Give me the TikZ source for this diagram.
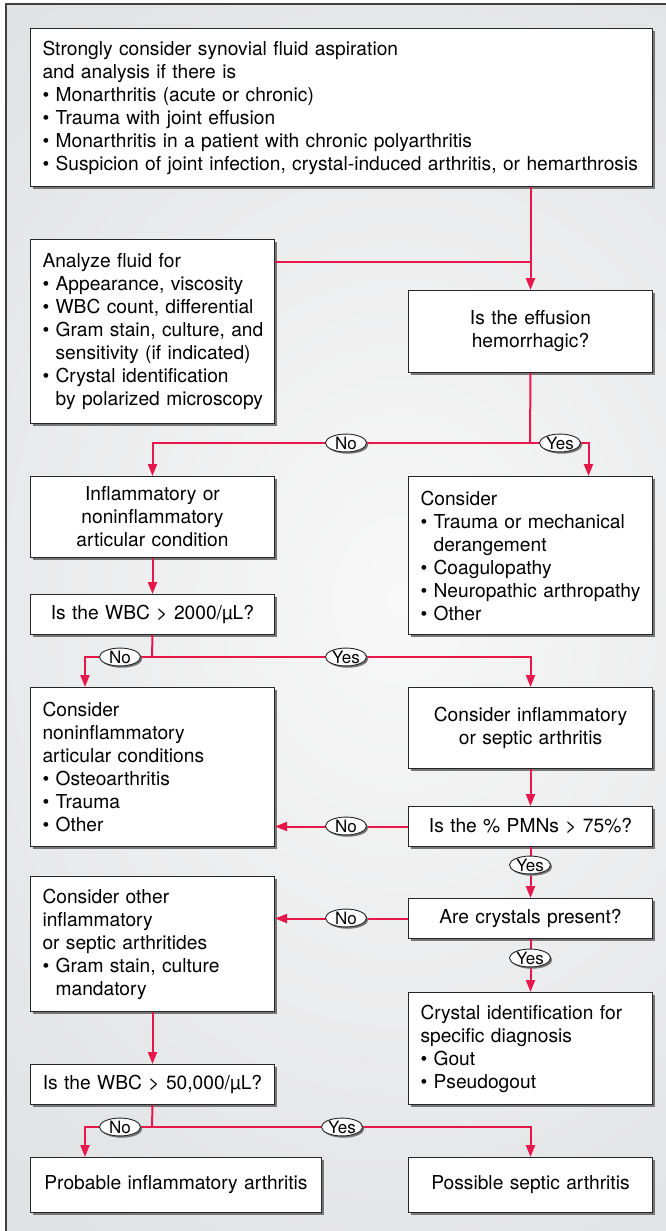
\documentclass[tikz,border=0pt]{standalone}
\usepackage{fontspec}
\setmainfont{TeX Gyre Heros}
\usetikzlibrary{arrows.meta,shapes.geometric,shadows}

\definecolor{flowred}{RGB}{232,23,75}
\definecolor{bgouter}{RGB}{225,226,228}
\definecolor{bginner}{RGB}{248,248,248}
\definecolor{boxshadow}{RGB}{118,118,118}

% bullet line and its run-on line, kept unbroken
\newcommand{\flowbul}[1]{\mbox{\textbullet\ #1}}
\newcommand{\flowind}[1]{\mbox{\hphantom{\textbullet\ }#1}}
% answer tag text, no width of its own
\newcommand{\answer}[1]{\makebox[0pt]{#1}}

\begin{document}
\begin{tikzpicture}[x=1pt, y=-1pt,
  box/.style={draw=black!85, line width=1pt, fill=white, inner xsep=12pt, inner ysep=0pt,
    text width=220pt, minimum height=#1, anchor=north west, align=left,
    font=\fontsize{19.2pt}{23pt}\selectfont,
    drop shadow={shadow xshift=2.5pt, shadow yshift=-2.5pt, fill=boxshadow, opacity=1}},
  cbox/.style={box=#1, text width=232pt, inner xsep=6pt, align=center},
  lbl/.style={ellipse, draw=black!85, line width=0.9pt, fill=white, minimum width=41pt,
    minimum height=17pt, inner sep=0pt, font=\fontsize{17pt}{17pt}\selectfont,
    drop shadow={shadow xshift=1.8pt, shadow yshift=-1.8pt, fill=boxshadow, opacity=1}},
  conn/.style={draw=flowred, line width=2pt},
  flow/.style={conn, -{Triangle[length=12pt,width=9pt]}}]
  \useasboundingbox (0,0) rectangle (666,1231);

  % Background panel
  \begin{scope}
    \clip (6,4) rectangle (672,1240);
    \shade[inner color=bginner, outer color=bgouter] (-200,-150) rectangle (1000,1350);
  \end{scope}
  \draw[black!75, line width=1.3pt] (6,1240) -- (6,4) -- (672,4);

  % Boxes
  \node[box=158pt, text width=598pt] (top) at (30,28)
    {Strongly consider synovial fluid aspiration\\
     and analysis if there is\\
     \flowbul{Monarthritis (acute or chronic)}\\
     \flowbul{Trauma with joint effusion}\\
     \flowbul{Monarthritis in a patient with chronic polyarthritis}\\
     \flowbul{Suspicion of joint infection, crystal-induced arthritis, or hemarthrosis}};
  \node[box=184pt] (an) at (30,239)
    {Analyze fluid for\\
     \flowbul{Appearance, viscosity}\\
     \flowbul{WBC count, differential}\\
     \flowbul{Gram stain, culture, and}\\
     \flowind{sensitivity (if indicated)}\\
     \flowbul{Crystal identification}\\
     \flowind{by polarized microscopy}};
  \node[cbox=82pt] (eff) at (408,290) {Is the effusion\\ hemorrhagic?};
  \node[cbox=81pt] (inf) at (30,476) {Inflammatory or\\ noninflammatory\\ articular condition};
  \node[box=158pt] (hem) at (408,476)
    {Consider\\
     \flowbul{Trauma or mechanical}\\
     \flowind{derangement}\\
     \flowbul{Coagulopathy}\\
     \flowbul{Neuropathic arthropathy}\\
     \flowbul{Other}};
  \node[cbox=40pt] (wbca) at (30,594) {\mbox{Is the WBC > 2000/µL?}};
  \node[box=159pt] (noninf) at (30,687)
    {Consider\\
     noninflammatory\\
     articular conditions\\
     \flowbul{Osteoarthritis}\\
     \flowbul{Trauma}\\
     \flowbul{Other}};
  \node[cbox=81pt] (septic) at (408,687) {Consider inflammatory\\ or septic arthritis};
  \node[cbox=40pt] (pmn) at (408,806) {\mbox{Is the \% PMNs > 75\%?}};
  \node[box=135pt] (other) at (30,876)
    {Consider other\\
     inflammatory\\
     or septic arthritides\\
     \flowbul{Gram stain, culture}\\
     \flowind{mandatory}};
  \node[cbox=40pt] (cryst) at (408,898) {Are crystals present?};
  \node[box=112pt] (ident) at (408,992)
    {Crystal identification for\\
     specific diagnosis\\
     \flowbul{Gout}\\
     \flowbul{Pseudogout}};
  \node[cbox=40pt] (wbcb) at (30,1064) {\mbox{Is the WBC > 50,000/µL?}};
  \node[cbox=55pt, text width=279pt] (prob) at (30,1157) {Probable inflammatory arthritis};
  \node[cbox=55pt] (poss) at (408,1157) {Possible septic arthritis};

  % Connectors
  \coordinate (j1) at (530,262);
  \draw[conn] (an.east |- j1) -- (j1);
  \draw[flow] (eff.north |- top.south) -- (eff.north);

  \coordinate (j2) at (530,443);
  \draw[conn] (eff.south) -- (j2);
  \draw[flow] (j2) -| (inf.north);
  \draw[flow] (j2) -| ([xshift=58pt]hem.north);

  \draw[flow] (inf.south) -- (wbca.north);
  \coordinate (j3) at (152,657);
  \draw[conn] (wbca.south) -- (j3);
  \draw[flow] (j3) -| ([xshift=55pt]noninf.north west);
  \draw[flow] (j3) -| (septic.north);

  \draw[flow] (septic.south) -- (pmn.north);
  \draw[flow] (pmn.west) -- (pmn.west -| noninf.east);
  \draw[flow] (pmn.south) -- (cryst.north);
  \draw[flow] (cryst.west) -- (cryst.west -| other.east);
  \draw[flow] (cryst.south) -- (ident.north);

  \draw[flow] (other.south) -- (wbcb.north);
  \coordinate (j4) at (152,1127);
  \draw[conn] (wbcb.south) -- (j4);
  \draw[flow] (j4) -| ([xshift=55pt]prob.north west);
  \draw[flow] (j4) -| (poss.north);

  % Yes/No tags
  \node[lbl] (no1) at (346,443) {\answer{No}};
  \node[lbl] (yes1) at (560,443) {\answer{Yes}};
  \node[lbl] (no2) at (120,657) {\answer{No}};
  \node[lbl] (yes2) at (346,657) {\answer{Yes}};
  \node[lbl] (no3) at (346,826) {\answer{No}};
  \node[lbl] (yes3) at (530,865) {\answer{Yes}};
  \node[lbl] (no4) at (346,918) {\answer{No}};
  \node[lbl] (yes4) at (530,958) {\answer{Yes}};
  \node[lbl] (no5) at (120,1127) {\answer{No}};
  \node[lbl] (yes5) at (342,1127) {\answer{Yes}};
\end{tikzpicture}
\end{document}
